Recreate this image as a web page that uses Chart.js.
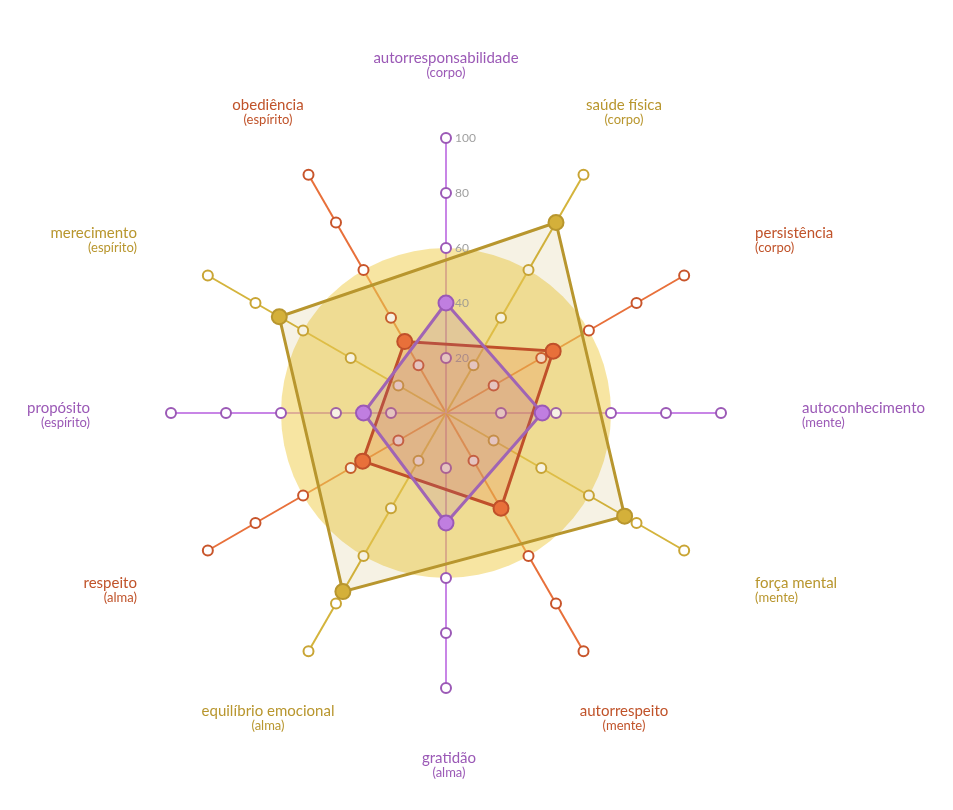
<!DOCTYPE html>
<html lang="pt">
<head>
<meta charset="utf-8">
<title>Radar</title>
<script src="https://cdn.jsdelivr.net/npm/chart.js@4.4.1/dist/chart.umd.min.js"></script>
<style>
  body { margin: 0; background: #fff; }
  #wrap { position: relative; width: 953px; height: 810px; }
</style>
</head>
<body>
<div id="wrap"><canvas id="radarChart"></canvas></div>
<script>
// --- Data ---
const labels = ['autorresponsabilidade', 'saúde física', 'persistência', 'autoconhecimento', 'força mental', 'autorrespeito',
    'gratidão', 'equilíbrio emocional', 'respeito', 'propósito', 'merecimento', 'obediência'];
const subLabels = ['(corpo)', '(corpo)', '(corpo)', '(mente)', '(mente)', '(mente)',
    '(alma)', '(alma)', '(alma)', '(espírito)', '(espírito)', '(espírito)'];
const purpleValues = [40, null, null, 35, null, null, 40, null, null, 30, null, null];
const goldValues = [null, 80, null, null, 75, null, null, 75, null, null, 70, null];
const orangeValues = [null, null, 45, null, null, 40, null, null, 35, null, null, 30];
const tickValues = [20, 40, 60, 80, 100];
const zoneValue = 60;

// --- Colours (purple, gold, orange) ---
const textColors = ['#9b59b6', '#b8962e', '#c0532a'];
const spokeColors = ['#c885e6', '#d4b43c', '#e8703a'];
const markerColors = ['#9b59b6', '#c9a535', '#c8552b'];

// background zone + tick labels, drawn under the datasets
const zonePlugin = {
    id: 'zone',
    beforeDatasetsDraw(chart) {
        const r = chart.scales.r;
        const ctx = chart.ctx;
        ctx.save();
        ctx.fillStyle = 'rgba(240, 208, 85, 0.55)';
        ctx.beginPath();
        ctx.arc(r.xCenter, r.yCenter, r.getDistanceFromCenterForValue(zoneValue), 0, Math.PI * 2);
        ctx.fill();

        ctx.fillStyle = '#a0a0a0';
        ctx.font = '12px Lato';
        ctx.textAlign = 'left';
        ctx.textBaseline = 'middle';
        tickValues.forEach(v => {
            ctx.fillText(String(v), r.xCenter + 9, r.yCenter - r.getDistanceFromCenterForValue(v));
        });
        ctx.restore();
    }
};

// two-line point labels
const labelPlugin = {
    id: 'twoLineLabels',
    afterDraw(chart) {
        const r = chart.scales.r;
        const ctx = chart.ctx;
        ctx.save();
        ctx.textBaseline = 'middle';
        labels.forEach((name, i) => {
            const p = r.getPointPosition(i, r.drawingArea + 75);
            const s = Math.sin(i * Math.PI / 6);
            let x = p.x;
            if (Math.abs(s) < 0.6) {
                ctx.textAlign = 'center';
                x += Math.sign(s) * 3;
            } else if (s > 0) {
                ctx.textAlign = 'left';
                x += 6;
            } else {
                ctx.textAlign = 'right';
                x -= 6;
            }
            ctx.fillStyle = textColors[i % 3];
            ctx.font = '15px Lato';
            ctx.fillText(name, x, p.y - 5);
            ctx.font = '13px Lato';
            ctx.fillText(subLabels[i], x, p.y + 10);
        });
        ctx.restore();
    }
};

const mainSets = [
    { data: purpleValues, line: '#a064b4', fill: 'rgba(155, 89, 182, 0.15)', point: '#c07ee0', border: '#9b59b6' },
    { data: orangeValues, line: '#c0502a', fill: 'rgba(232, 112, 58, 0.2)', point: '#e8703a', border: '#c0502a' },
    { data: goldValues, line: '#b8962e', fill: 'rgba(188, 152, 44, 0.13)', point: '#d4b03a', border: '#b8962e' }
].map(s => ({
    data: s.data,
    spanGaps: true,
    fill: true,
    clip: false,
    borderColor: s.line,
    backgroundColor: s.fill,
    borderWidth: 3,
    pointRadius: 7.5,
    pointBorderWidth: 2,
    pointBackgroundColor: s.point,
    pointBorderColor: s.border
}));

const markerSets = tickValues.map(v => ({
    data: labels.map(() => v),
    fill: false,
    clip: false,
    borderWidth: 0,
    borderColor: 'transparent',
    pointRadius: 5,
    pointBorderWidth: 2,
    pointBackgroundColor: '#ffffff',
    pointBorderColor: labels.map((_, i) => markerColors[i % 3])
}));

const ctx = document.getElementById('radarChart').getContext('2d');
new Chart(ctx, {
    type: 'radar',
    data: {
        labels: labels,
        datasets: mainSets.concat(markerSets)
    },
    options: {
        responsive: true,
        maintainAspectRatio: false,
        animation: false,
        layout: { padding: { left: 171, right: 232, top: 138, bottom: 122 } },
        plugins: {
            legend: { display: false },
            tooltip: { enabled: false }
        },
        scales: {
            r: {
                min: 0,
                max: 100,
                ticks: { display: false, stepSize: 20 },
                grid: { display: false },
                angleLines: {
                    display: true,
                    lineWidth: 2,
                    color: c => spokeColors[c.index % 3]
                },
                pointLabels: { display: false }
            }
        }
    },
    plugins: [zonePlugin, labelPlugin]
});
</script>
</body>
</html>
